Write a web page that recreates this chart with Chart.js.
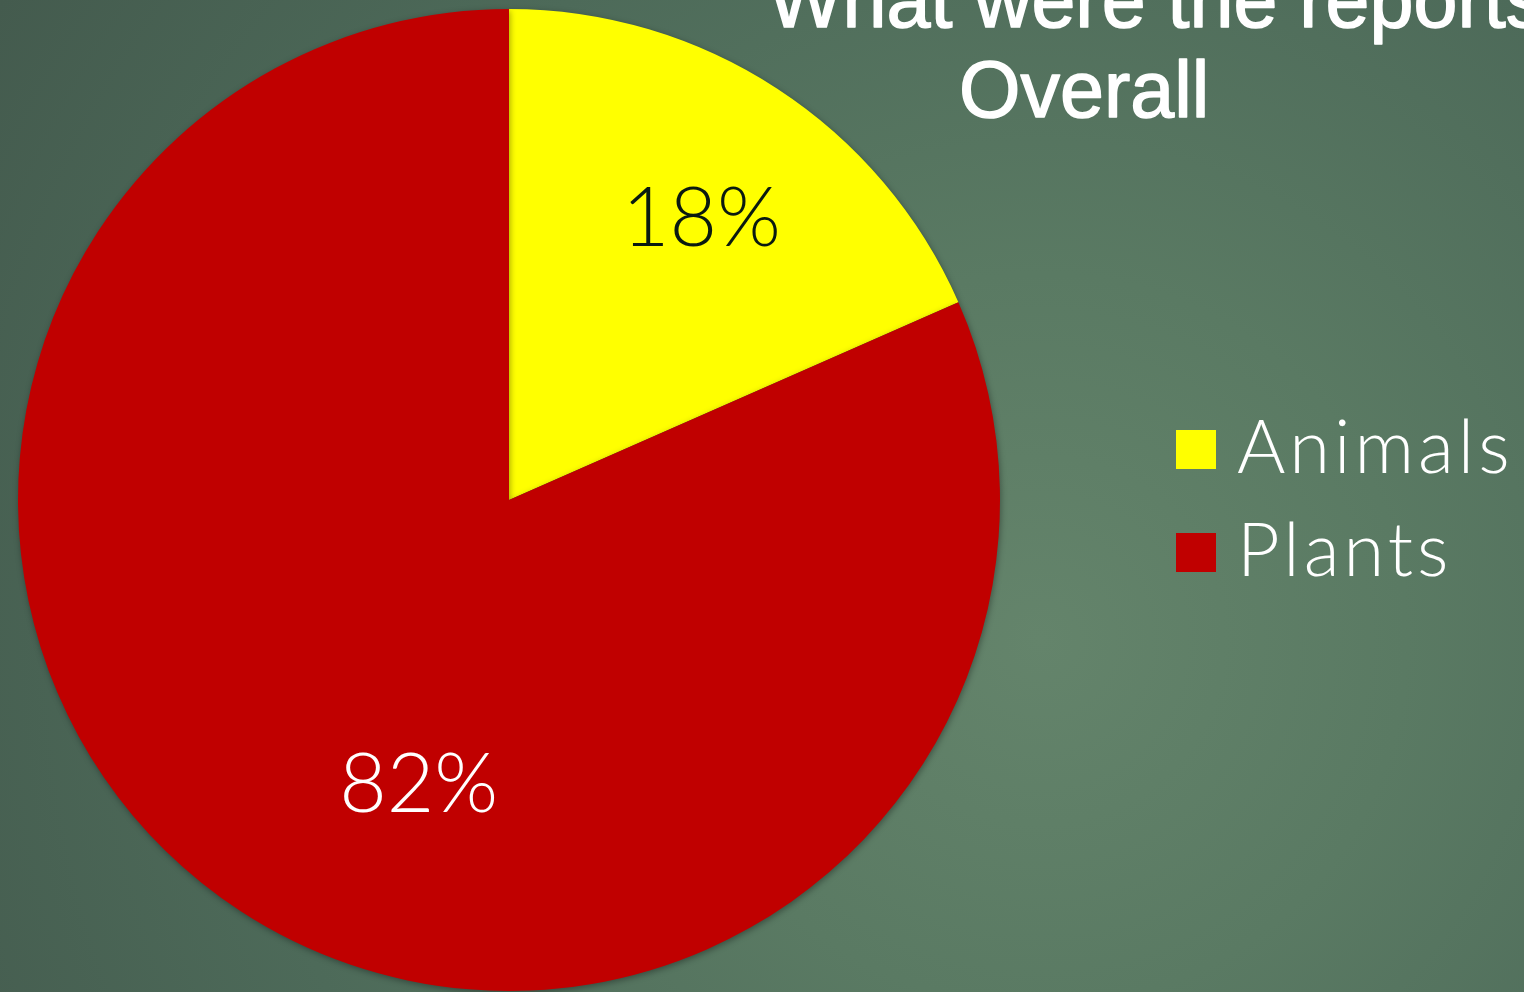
<!DOCTYPE html>
<html>
<head>
<meta charset="utf-8">
<script src="https://cdn.jsdelivr.net/npm/chart.js@4"></script>
<style>
  html, body { margin: 0; padding: 0; }
  body {
    width: 1524px; height: 992px; overflow: hidden;
    background: radial-gradient(circle at 1040px 640px, #64846b 0%, #5a7a63 30%, #4d6a59 65%, #445b4e 100%);
  }
  #wrap { position: relative; width: 1524px; height: 992px; }
</style>
</head>
<body>
<div id="wrap"><canvas id="chart"></canvas></div>
<script>
// Data
const labels = ['Animals', 'Plants'];
const values = [18.4, 81.6];
const colors = ['#FFFF00', '#C00000'];
const labelColors = ['#0a1a10', '#ffffff'];
const titleLines = ['What were the reports', 'Overall'];

// title drawn at fixed spots (text is offset like in the slide)
const titlePlugin = {
    id: 'slideTitle',
    afterDraw(chart) {
        const ctx = chart.ctx;
        ctx.save();
        ctx.fillStyle = '#ffffff';
        ctx.strokeStyle = '#ffffff';
        ctx.lineWidth = 1.5;
        ctx.lineJoin = 'round';
        ctx.font = '79px "Liberation Sans", Arial, sans-serif';
        ctx.textBaseline = 'alphabetic';
        ctx.textAlign = 'left';
        const pos = [[768, 27], [959, 117]];
        titleLines.forEach((t, i) => {
            ctx.fillText(t, pos[i][0], pos[i][1]);
            ctx.strokeText(t, pos[i][0], pos[i][1]);
        });
        ctx.restore();
    }
};

// percentage labels inside slices
const pctPlugin = {
    id: 'pctLabels',
    afterDatasetsDraw(chart, args, opts) {
        const ctx = chart.ctx;
        const meta = chart.getDatasetMeta(0);
        const total = values.reduce((a, b) => a + b, 0);
        ctx.save();
        ctx.font = '300 82px Lato, "Open Sans", sans-serif';
        ctx.textAlign = 'center';
        ctx.textBaseline = 'middle';
        meta.data.forEach((arc, i) => {
            const p = arc.getProps(['x', 'y', 'startAngle', 'endAngle', 'outerRadius'], true);
            const a = p.startAngle + (p.endAngle - p.startAngle) * opts.angleFrac[i];
            const r = p.outerRadius * opts.radiusFrac[i];
            ctx.fillStyle = labelColors[i];
            ctx.fillText(Math.round(values[i] / total * 100) + '%', p.x + Math.cos(a) * r, p.y + Math.sin(a) * r);
        });
        ctx.restore();
    }
};

// legend on the right
const legendPlugin = {
    id: 'sideLegend',
    afterDraw(chart, args, opts) {
        const ctx = chart.ctx;
        ctx.save();
        ctx.font = '300 74px Lato, "Open Sans", sans-serif';
        ctx.letterSpacing = '4px';
        ctx.textBaseline = 'alphabetic';
        ctx.textAlign = 'left';
        labels.forEach((lab, i) => {
            const top = opts.top + i * opts.step;
            ctx.fillStyle = colors[i];
            ctx.fillRect(opts.x, top, 40, 39);
            ctx.fillStyle = '#ffffff';
            ctx.fillText(lab, opts.x + 61, top + 43);
        });
        ctx.restore();
    }
};

// soft shadow under the pie
const shadowPlugin = {
    id: 'pieShadow',
    beforeDatasetsDraw(chart) {
        const ctx = chart.ctx;
        ctx.save();
        ctx.shadowColor = 'rgba(0,0,0,0.35)';
        ctx.shadowBlur = 6;
        ctx.shadowOffsetX = 1;
        ctx.shadowOffsetY = 2;
    },
    afterDatasetsDraw(chart) {
        chart.ctx.restore();
    }
};

const ctx = document.getElementById('chart').getContext('2d');
new Chart(ctx, {
    type: 'pie',
    data: {
        labels: labels,
        datasets: [{
            data: values,
            backgroundColor: colors,
            borderWidth: 0
        }]
    },
    options: {
        responsive: true,
        maintainAspectRatio: false,
        animation: false,
        layout: {
            padding: { left: 18, top: 9, right: 524, bottom: 1 }
        },
        plugins: {
            legend: { display: false },
            tooltip: { enabled: false },
            pctLabels: { angleFrac: [0.52, 0.447], radiusFrac: [0.693, 0.61] },
            sideLegend: { x: 1176, top: 430, step: 103 }
        }
    },
    plugins: [shadowPlugin, pctPlugin, legendPlugin, titlePlugin]
});
</script>
</body>
</html>
